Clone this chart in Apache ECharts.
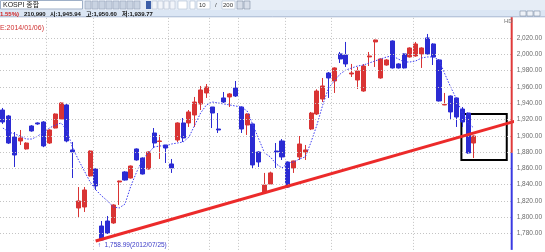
<!DOCTYPE html>
<html><head><meta charset="utf-8">
<script src="https://cdn.jsdelivr.net/npm/echarts@6/dist/echarts.min.js"></script>
<style>html,body{margin:0;padding:0;background:#fff;overflow:hidden}#c{width:545px;height:252px}</style>
</head><body><div id="c"></div>
<script>
// ---- data ----
const opens  = [1931.6,1924.3,1898.5,1893.6,1883.8,1912.0,1915.7,1916.9,1891.1,1909.5,1920.6,1937.8,1882.6,1811.4,1812.6,1850.7,1859.3,1789.3,1795.4,1793.0,1843.3,1855.6,1848.2,1883.8,1872.7,1859.3,1903.4,1893.0,1888.7,1865.4,1894.8,1915.7,1915.7,1925.5,1939.0,1952.5,1935.3,1908.3,1946.4,1947.6,1958.6,1935.3,1913.2,1914.5,1880.1,1831.0,1840.8,1881.3,1893.6,1867.8,1860.5,1874.0,1880.1,1908.3,1926.7,1945.1,1977.0,1967.2,2000.4,1999.1,1975.8,1968.4,1954.9,1996.7,2015.1,1970.9,1986.8,2016.3,1988.1,2000.4,1996.7,1997.9,2000.4,2020.0,2012.6,1993.0,1937.8,1948.8,1946.4,1932.8,1927.9,1891.1];
const closes = [1916.9,1891.1,1876.4,1897.3,1891.1,1905.9,1914.5,1887.5,1907.1,1926.7,1940.2,1893.6,1880.1,1820.0,1833.5,1881.3,1838.4,1772.1,1780.7,1815.1,1844.5,1845.7,1862.9,1870.3,1853.1,1880.1,1891.1,1893.6,1885.0,1860.5,1915.7,1897.3,1929.2,1941.4,1956.2,1959.8,1927.9,1907.1,1941.4,1951.3,1948.8,1908.3,1926.7,1864.2,1867.8,1839.6,1854.4,1880.1,1874.0,1837.1,1869.1,1889.9,1882.6,1927.9,1954.9,1961.1,1970.9,1983.2,1994.2,1988.1,1977.0,1979.5,1985.6,1997.9,2017.5,1994.2,1993.0,1983.2,1983.2,1983.2,2007.7,2012.6,2007.7,2000.4,1996.7,1942.7,1938.5,1929.2,1923.0,1916.9,1878.9,1899.7];
const lows   = [1914.5,1890.0,1861.7,1888.7,1883.0,1905.0,1913.5,1886.0,1890.0,1909.0,1920.0,1892.0,1848.2,1799.1,1806.5,1850.0,1833.5,1771.0,1779.5,1792.0,1815.1,1845.0,1847.5,1869.5,1852.5,1858.5,1885.0,1871.5,1866.6,1854.4,1892.4,1892.4,1910.8,1910.8,1931.6,1946.4,1909.5,1903.4,1940.2,1935.3,1947.6,1903.4,1901.0,1859.3,1861.7,1830.0,1840.0,1860.5,1870.3,1836.0,1854.4,1870.3,1870.3,1907.0,1925.5,1941.4,1946.4,1952.5,1989.3,1984.4,1972.1,1957.4,1954.0,1985.6,1984.4,1970.0,1986.0,1982.5,1982.5,1982.5,1996.0,1997.0,1983.2,1999.5,1986.8,1942.0,1937.5,1920.6,1910.8,1910.8,1878.0,1872.7];
const highs  = [1934.1,1925.5,1904.6,1907.1,1892.0,1913.0,1916.5,1918.0,1908.0,1927.5,1941.0,1939.0,1892.4,1837.1,1837.1,1882.0,1860.0,1795.4,1801.6,1816.0,1845.0,1856.5,1863.5,1884.5,1873.5,1881.0,1909.5,1901.0,1888.7,1871.5,1916.5,1921.8,1931.6,1947.6,1961.1,1963.5,1935.3,1927.9,1953.7,1952.5,1967.2,1936.0,1927.5,1915.0,1881.0,1854.4,1856.0,1891.1,1896.0,1868.5,1869.5,1899.7,1888.7,1929.2,1957.0,1970.9,1978.2,1984.0,2002.8,2015.1,1988.1,1984.4,1988.0,2002.8,2018.0,1995.0,1994.0,2017.0,1989.0,2001.0,2008.5,2015.1,2008.5,2024.9,2013.5,1994.0,1952.5,1949.5,1947.0,1935.3,1928.5,1900.5];
const maValues = [1909.5,1904.6,1902.2,1899.7,1896.0,1896.0,1899.7,1904.6,1909.5,1913.2,1915.7,1907.1,1885.0,1870.3,1856.8,1843.3,1833.5,1826.1,1820.0,1812.6,1811.4,1816.3,1838.4,1855.6,1870.3,1878.9,1886.2,1887.5,1887.5,1889.9,1891.1,1892.4,1898.5,1913.2,1927.9,1937.8,1941.4,1940.2,1939.0,1937.8,1936.5,1935.3,1930.4,1913.2,1896.0,1878.9,1874.0,1865.4,1860.5,1866.6,1867.8,1871.5,1874.0,1892.4,1913.2,1937.8,1958.6,1967.2,1975.8,1980.7,1983.2,1985.6,1986.8,1989.3,1991.8,1994.2,1996.7,1997.9,1994.2,1990.5,1990.5,1991.8,1995.4,1996.7,1996.7,1993.0,1975.8,1959.8,1945.1,1927.9,1915.7,1909.5];
const yTickValues = [1780,1800,1820,1840,1860,1880,1900,1920,1940,1960,1980,2000,2020];
const vGridSlots = [8,16,29,36,41,49,57,71];
const trendLine = [[16.45,1770.9],[89.35,1919.4]];
const focusBox = [[79.35,1926.7],[87.15,1870.3]];
const lastPrice = 1899.73;
const lastChange = '1.55%';
const axisColorSplit = 1879;
const lowNote = '\u2191  1,758.99(2012/07/25)';
const N_SLOTS = 88;
const Y_MIN = 1760, Y_MAX = 2045.7;
const categories = Array.from({length: N_SLOTS}, (_, i) => String(i + 1));

const ohlc = opens.map((o, i) => [o, closes[i], lows[i], highs[i]]);
const fmt = v => v.toLocaleString('en-US', {minimumFractionDigits: 2, maximumFractionDigits: 2});
const UP = '#d93434', DOWN = '#2b2bd3';
const F = '"Liberation Sans", "Noto Sans CJK KR", sans-serif';

const chart = echarts.init(document.getElementById('c'), null, {renderer: 'canvas'});

const infoStyle = (t, c) => ({text:t, fontSize:6, fontWeight:'bold', fontFamily:F, fill:c || '#111'});
const gfx = [
  {type:'rect', shape:{x:0,y:0,width:545,height:10}, style:{fill:'#e6edf6'}, z:100},
  {type:'rect', shape:{x:0.5,y:0.5,width:82,height:8.5}, style:{fill:'#fff', stroke:'#9fb0c8', lineWidth:1}, z:101},
  {type:'text', x:3, y:1.5, style:{text:'KOSPI 종합', fontSize:7, fontFamily:F, fill:'#222'}, z:102},
  {type:'rect', shape:{x:0,y:10,width:545,height:7}, style:{fill:'#dbe6f4'}, z:100},
  {type:'line', shape:{x1:0,y1:16.8,x2:545,y2:16.8}, style:{stroke:'#a9b9d2', lineWidth:1}, z:101},
  {type:'text', x:0, y:11, style:infoStyle('1.55%)', '#d02020'), z:102},
  {type:'text', x:24, y:11, style:infoStyle('210,990'), z:102},
  {type:'text', x:50, y:11, style:infoStyle('시:1,945.94'), z:102},
  {type:'text', x:86, y:11, style:infoStyle('고:1,950.60'), z:102},
  {type:'text', x:122, y:11, style:infoStyle('저:1,939.77'), z:102},
  {type:'text', x:0, y:25, style:{text:'E:2014/01/06)', fontSize:7, fontFamily:F, fill:'#d03030'}, z:102},
  {type:'text', x:504, y:18, style:{text:'HD', fontSize:6, fontFamily:F, fill:'#777'}, z:102}
];
// toolbar buttons
const btnX = [85,92,99,106,113,120,127,134];
btnX.forEach(x => gfx.push({type:'rect', shape:{x:x,y:1,width:6,height:8}, style:{fill:'#c9d3e2', stroke:'#8d9bb3', lineWidth:0.5}, z:101}));
gfx.push({type:'rect', shape:{x:146,y:1,width:5,height:8}, style:{fill:'#3d5fa8'}, z:101});
[152,158,164,170].forEach(x => gfx.push({type:'rect', shape:{x:x,y:1,width:5,height:8}, style:{fill:'#f2f5fa', stroke:'#a8b5c9', lineWidth:0.5}, z:101}));
[[178,9],[190,5],[197,13],[222,13]].forEach(([x,w]) => gfx.push({type:'rect', shape:{x:x,y:1,width:w,height:8}, style:{fill:'#fff', stroke:'#9fb0c8', lineWidth:0.5}, z:101}));
gfx.push({type:'text', x:199, y:2, style:{text:'10', fontSize:6, fontFamily:F, fill:'#333'}, z:102});
gfx.push({type:'text', x:215, y:2, style:{text:'/', fontSize:6, fontFamily:F, fill:'#333'}, z:102});
gfx.push({type:'text', x:223, y:2, style:{text:'200', fontSize:6, fontFamily:F, fill:'#333'}, z:102});
[237,244].forEach(x => gfx.push({type:'rect', shape:{x:x,y:1,width:6,height:8}, style:{fill:'#d7dee9', stroke:'#6d7d96', lineWidth:0.5}, z:101}));
[520,527,534].forEach(x => gfx.push({type:'rect', shape:{x:x,y:11,width:6,height:5}, style:{fill:'#eef2f8', stroke:'#6d7d96', lineWidth:0.5}, z:101}));

const gridLineStyle = {color:'#c4c4c4', width:1, type:[1,2]};

chart.setOption({
  animation: false,
  backgroundColor: '#fff',
  grid: {left:0, right:26, top:17, bottom:2.12},
  xAxis: [
    {type:'category', data:categories, boundaryGap:true, axisLine:{show:false}, axisTick:{show:false}, axisLabel:{show:false}, splitLine:{show:false}},
    {type:'value', min:0, max:N_SLOTS, show:false, splitLine:{show:false}}
  ],
  yAxis: {
    type:'value', position:'right', min:Y_MIN, max:Y_MAX, interval:20, scale:true,
    axisLine:{show:false}, axisTick:{show:false}, splitLine:{show:false},
    axisLabel:{margin:5, fontSize:6.5, fontFamily:F, color:'#6a6a6a',
      formatter: v => yTickValues.includes(Math.round(v*100)/100) ? fmt(v) : ''}
  },
  graphic: gfx,
  series: [
    {type:'line', name:'grid', xAxisIndex:1, data:[], silent:true, z:0,
      markLine:{silent:true, symbol:'none', animation:false, label:{show:false}, lineStyle:gridLineStyle,
        data: yTickValues.map(v => ({yAxis:v})).concat(vGridSlots.map(s => ({xAxis:s})))}},
    {type:'candlestick', name:'KOSPI', xAxisIndex:0, data:ohlc, barWidth:'78%', z:2,
      itemStyle:{color:UP, color0:DOWN, borderColor:UP, borderColor0:DOWN, borderWidth:1},
      markLine:{silent:true, symbol:'none', animation:false, lineStyle:{opacity:0},
        label:{show:true, position:'end', distance:2, offset:[0,3],
          formatter: () => '{a|' + fmt(lastPrice) + '}\n{b|' + lastChange + '}',
          rich:{a:{backgroundColor:'#d83232', color:'#fff', fontSize:6.5, fontFamily:F, padding:[1,2,0,2], lineHeight:8},
                b:{color:'#d83232', fontSize:6.5, fontFamily:F, padding:[0,0,0,8], lineHeight:8}}},
        data:[{yAxis:lastPrice}]},
      markPoint:{silent:true, animation:false, symbol:'circle', symbolSize:1, itemStyle:{color:'rgba(0,0,0,0)'},
        label:{show:true, position:'bottom', distance:1, align:'left', offset:[-4,0], formatter: () => lowNote,
          fontSize:6.5, fontFamily:F, color:'#3a3ac8'},
        data:[{coord:[categories[17], lows[17]]}]}
    },
    {type:'line', name:'MA', xAxisIndex:0, data:maValues, symbol:'none', z:3,
      lineStyle:{color:'#3c3cf2', width:1, type:[1.5,1.5]}},
    {type:'line', name:'trend', xAxisIndex:1, data:trendLine, symbol:'none', clip:false, z:5,
      lineStyle:{color:'#ec2a2a', width:3}},
    {type:'line', name:'box', xAxisIndex:1, data:[], z:6,
      markArea:{silent:true, itemStyle:{color:'rgba(0,0,0,0)', borderColor:'#000', borderWidth:2},
        data:[[{coord:focusBox[0]},{coord:focusBox[1]}]]}},
    {type:'line', name:'axisUp', xAxisIndex:1, data:[[N_SLOTS, Y_MAX],[N_SLOTS, axisColorSplit]], symbol:'none', clip:false, z:7,
      lineStyle:{color:'#e03a3a', width:2}},
    {type:'line', name:'axisDown', xAxisIndex:1, data:[[N_SLOTS, axisColorSplit],[N_SLOTS, Y_MIN]], symbol:'none', clip:false, z:7,
      lineStyle:{color:'#3a3ae2', width:2}}
  ]
});
</script></body></html>
